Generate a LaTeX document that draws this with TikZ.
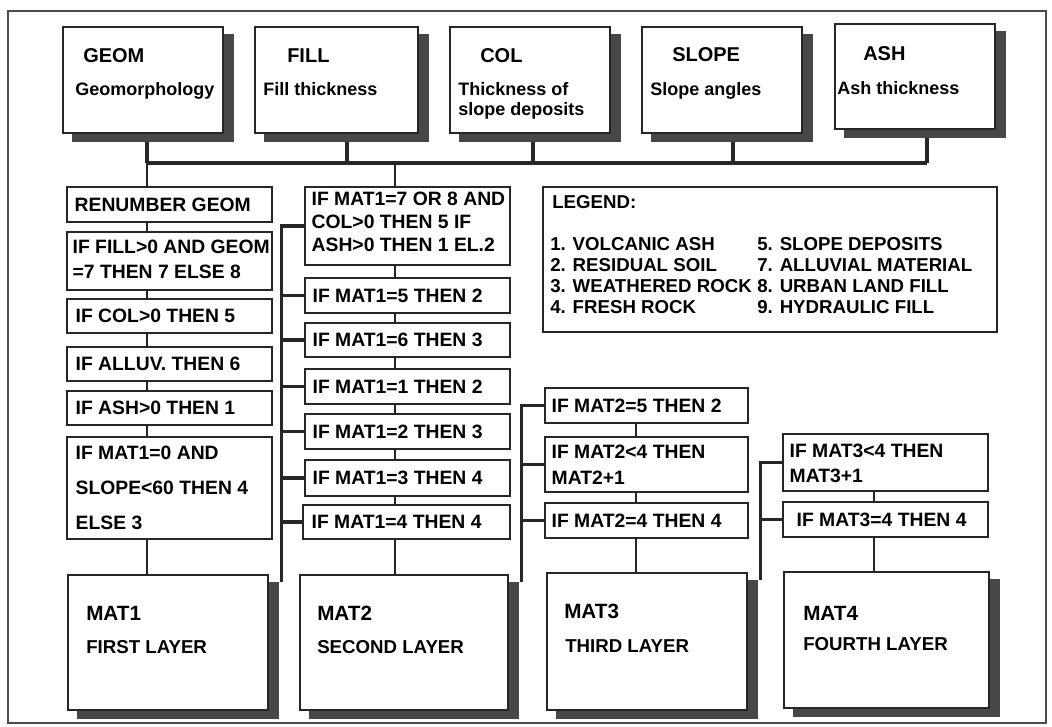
\documentclass[tikz,border=0pt]{standalone}
\usepackage{fontspec}
\setmainfont{Liberation Sans}
\usetikzlibrary{calc,fit}
\pgfdeclarelayer{lines}
\pgfdeclarelayer{shadow}
\pgfsetlayers{lines,shadow,main}
\begin{document}
\begin{tikzpicture}[x=0.75pt,y=-0.75pt,
 box/.style={draw=black!85,line width=0.9pt,fill=white,inner sep=0pt},
 shd/.style={fill=black!72},
 conn/.style={draw=black!85,line width=1.9pt},
 bus/.style={draw=black!85,line width=2.3pt},
 spine/.style={draw=black!85,line width=2.4pt},
 ttl/.style={inner sep=0pt,anchor=base west,font=\bfseries\fontsize{15}{18}\selectfont},
 sub/.style={inner sep=0pt,anchor=base west,font=\bfseries\fontsize{13.5}{16}\selectfont},
 rt/.style={inner sep=0pt,anchor=west,align=left,font=\bfseries\fontsize{14.5}{17}\selectfont},
 mt/.style={inner sep=0pt,anchor=base west,font=\bfseries\fontsize{15.5}{18}\selectfont},
 ms/.style={inner sep=0pt,anchor=base west,font=\bfseries\fontsize{14}{17}\selectfont},
 lg/.style={inner sep=0pt,anchor=north west,align=left,font=\bfseries\fontsize{14}{15.75}\selectfont},
 lgh/.style={inner sep=0pt,anchor=base west,font=\bfseries\fontsize{14}{17}\selectfont},
]
\useasboundingbox (0,0) rectangle (1052,726);
\draw[line width=0.8pt,black!70] (8,11) rectangle (1046,723);

% top input boxes
\node[box,fit={(63,27)(223,133)}] (geom) {};
\node[box,fit={(255,27)(418,133)}] (filln) {};
\node[box,fit={(450,27)(610,133)}] (coln) {};
\node[box,fit={(642,27)(802,133)}] (slopen) {};
\node[box,fit={(835,24)(995,129)}] (ashn) {};
\node[ttl] (geomt) at (83,62) {GEOM};
\node[sub] (geoms) at (75,95) {Geomorphology};
\node[ttl] (fillt) at (287,62) {FILL};
\node[sub] (fills) at (263,95) {Fill thickness};
\node[ttl] (colt) at (480,62) {COL};
\node[sub] (cols1) at (458,95) {Thickness of};
\node[sub] (cols2) at (458,115) {slope deposits};
\node[ttl] (slopet) at (672,61) {SLOPE};
\node[sub] (slopes) at (650,95) {Slope angles};
\node[ttl] (asht) at (863,60) {ASH};
\node[sub] (ashs) at (837,94) {Ash thickness};

% column 1
\node[box,fit={(67,187)(272,222)}] (r1) {};
\node[box,fit={(67,232)(272,290)}] (r2) {};
\node[box,fit={(67,299)(272,333)}] (r3) {};
\node[box,fit={(67,347)(272,381)}] (r4) {};
\node[box,fit={(67,391)(272,425)}] (r5) {};
\node[box,fit={(67,437)(272,539)}] (r6) {};
\node[box,fit={(68,575)(268,710)}] (m1) {};
\node[rt] (r1t) at ($(r1.west)+(8,0)$) {RENUMBER GEOM};
\node[rt] (r2t) at ($(r2.west)+(6,-2)$) {IF FILL>0 AND GEOM\\[1.8pt]=7 THEN 7 ELSE 8};
\node[rt] (r3t) at ($(r3.west)+(9,0)$) {IF COL>0 THEN 5};
\node[rt] (r4t) at ($(r4.west)+(9,0)$) {IF ALLUV. THEN 6};
\node[rt] (r5t) at ($(r5.west)+(9,0)$) {IF ASH>0 THEN 1};
\node[rt] (r6t) at ($(r6.west)+(9,0)$) {IF MAT1=0 AND\\[9.2pt]SLOPE<60 THEN 4\\[9.2pt]ELSE 3};
\node[mt] (m1t) at (86,620) {MAT1};
\node[ms] (m1s) at (86,653) {FIRST LAYER};

% column 2
\node[box,fit={(305,187)(510,265)}] (c2a) {};
\node[box,fit={(305,278)(510,313)}] (c2b) {};
\node[box,fit={(305,323)(510,357)}] (c2c) {};
\node[box,fit={(305,369)(510,404)}] (c2d) {};
\node[box,fit={(305,414)(510,449)}] (c2e) {};
\node[box,fit={(305,460)(510,496)}] (c2f) {};
\node[box,fit={(303,505)(510,539)}] (c2g) {};
\node[box,fit={(300,575)(508,710)}] (m2) {};
\node[rt] (c2at) at ($(c2a.west)+(7,-4)$) {IF MAT1=7 OR 8 AND\\COL>0 THEN 5 IF\\ASH>0 THEN 1 EL.2};
\node[rt] (c2bt) at ($(c2b.west)+(8,0)$) {IF MAT1=5 THEN 2};
\node[rt] (c2ct) at ($(c2c.west)+(8,0)$) {IF MAT1=6 THEN 3};
\node[rt] (c2dt) at ($(c2d.west)+(8,0)$) {IF MAT1=1 THEN 2};
\node[rt] (c2et) at ($(c2e.west)+(8,0)$) {IF MAT1=2 THEN 3};
\node[rt] (c2ft) at ($(c2f.west)+(8,0)$) {IF MAT1=3 THEN 4};
\node[rt] (c2gt) at ($(c2g.west)+(9,0)$) {IF MAT1=4 THEN 4};
\node[mt] (m2t) at (317,620) {MAT2};
\node[ms] (m2s) at (317,653) {SECOND LAYER};

% legend
\node[box,fit={(543,187)(997,332)}] (leg) {};
\node[lgh] (legt) at (552,208) {LEGEND:};
\node[lg] (legl) at (550,237) {1. VOLCANIC ASH\\2. RESIDUAL SOIL\\3. WEATHERED ROCK\\4. FRESH ROCK};
\node[lg] (legr) at (757,237) {5. SLOPE DEPOSITS\\7. ALLUVIAL MATERIAL\\8. URBAN LAND FILL\\9. HYDRAULIC FILL};

% column 3
\node[box,fit={(545,388)(748,423)}] (c3a) {};
\node[box,fit={(545,437)(748,492)}] (c3b) {};
\node[box,fit={(545,503)(748,538)}] (c3c) {};
\node[box,fit={(547,573)(747,710)}] (m3) {};
\node[rt] (c3at) at ($(c3a.west)+(7,0)$) {IF MAT2=5 THEN 2};
\node[rt] (c3bt) at ($(c3b.west)+(7,0)$) {IF MAT2<4 THEN\\[2.5pt]MAT2+1};
\node[rt] (c3ct) at ($(c3c.west)+(7,0)$) {IF MAT2=4 THEN 4};
\node[mt] (m3t) at (564,618) {MAT3};
\node[ms] (m3s) at (565,652) {THIRD LAYER};

% column 4
\node[box,fit={(783,434)(988,491)}] (c4a) {};
\node[box,fit={(783,502)(988,537)}] (c4b) {};
\node[box,fit={(784,572)(989,708)}] (m4) {};
\node[rt] (c4at) at ($(c4a.west)+(7,1)$) {IF MAT3<4 THEN\\[1.8pt]MAT3+1};
\node[rt] (c4bt) at ($(c4b.west)+(14,0)$) {IF MAT3=4 THEN 4};
\node[mt] (m4t) at (803,620) {MAT4};
\node[ms] (m4s) at (803,650) {FOURTH LAYER};

% shadows
\begin{pgfonlayer}{shadow}
\foreach \n in {geom,filln,coln,slopen,ashn,m1,m2,m3,m4}
  \fill[shd] ($(\n.north west)+(10,8)$) rectangle ($(\n.south east)+(10,8)$);
\end{pgfonlayer}

% connectors
\begin{pgfonlayer}{lines}
\coordinate (b1) at (147,163);
\coordinate (bf) at (347,163);
\coordinate (bc) at (533,163);
\coordinate (bs) at (733,163);
\coordinate (ba) at (927,163);
\coordinate (bd) at (395,163);
\draw[bus] (b1) -- (ba);
\draw[bus] (geom.south -| b1) -- (b1);
\draw[bus] (filln.south -| bf) -- (bf);
\draw[bus] (coln.south -| bc) -- (bc);
\draw[bus] (slopen.south -| bs) -- (bs);
\draw[bus] (ashn.south -| ba) -- (ba);
\draw[conn] (b1) -- (r1.north -| b1);
\draw[conn] (bd) -- (c2a.north -| bd);
\foreach \a/\b in {r1/r2,r2/r3,r3/r4,r4/r5,r5/r6,r6/m1}
  \draw[conn] (\a.south -| b1) -- (\b.north -| b1);
\coordinate (x2) at (395,0);
\foreach \a/\b in {c2a/c2b,c2b/c2c,c2c/c2d,c2d/c2e,c2e/c2f,c2f/c2g,c2g/m2}
  \draw[conn] (\a.south -| x2) -- (\b.north -| x2);
\coordinate (x3) at (636,0);
\foreach \a/\b in {c3a/c3b,c3b/c3c,c3c/m3}
  \draw[conn] (\a.south -| x3) -- (\b.north -| x3);
\coordinate (x4) at (874,0);
\foreach \a/\b in {c4a/c4b,c4b/m4}
  \draw[conn] (\a.south -| x4) -- (\b.north -| x4);
% spines
\coordinate (s2) at ($(m1.north east)+(13,8)$);
\draw[spine] (c2a.west) -| (s2);
\foreach \b in {c2b,c2c,c2d,c2e,c2f,c2g}
  \draw[spine] (\b.west) -- (\b.west -| s2);
\coordinate (s3) at ($(m2.north east)+(13,8)$);
\draw[spine] (c3a.west) -| (s3);
\foreach \b in {c3b,c3c}
  \draw[spine] (\b.west) -- (\b.west -| s3);
\coordinate (s4) at ($(m3.north east)+(13,8)$);
\draw[spine] (c4a.west) -| (s4);
\draw[spine] (c4b.west) -- (c4b.west -| s4);
\end{pgfonlayer}
\end{tikzpicture}
\end{document}
